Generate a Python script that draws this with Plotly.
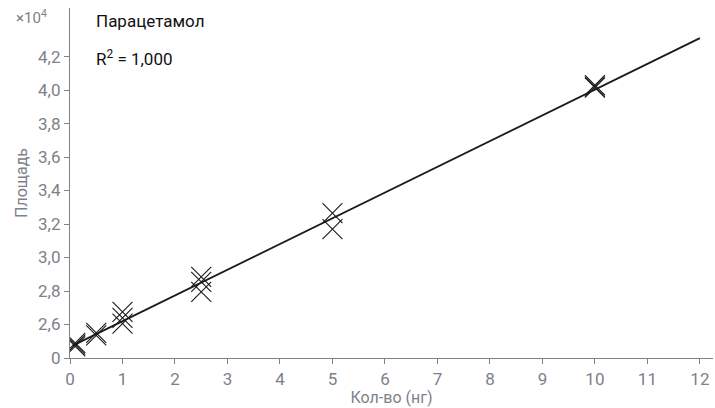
import numpy as np
import plotly.graph_objects as go

# Data (area in units of 1e4)
amount_ng = [0.1, 0.1, 0.1, 0.5, 0.5, 1, 1, 1, 2.5, 2.5, 2.5, 5, 5, 10, 10, 10]
area_e4 = [2.47, 2.48, 2.49, 2.535, 2.55, 2.675, 2.64, 2.605, 2.885, 2.855, 2.795,
           3.265, 3.17, 4.03, 4.02, 4.015]

fit_slope = 0.1537
fit_intercept = 2.466
fit_x = [0.05, 12]

y_tickvals = [2.4, 2.6, 2.8, 3.0, 3.2, 3.4, 3.6, 3.8, 4.0, 4.2]
y_ticktext = ["0", "2,6", "2,8", "3,0", "3,2", "3,4", "3,6", "3,8", "4,0", "4,2"]
x_tickvals = list(range(0, 13))

title_text = "Парацетамол"
r2_text = "R<sup>2</sup> = 1,000"

fit_y = [fit_intercept + fit_slope * v for v in fit_x]

grey = "#7d8189"
font = "Roboto, 'Noto Sans', sans-serif"
fs = 17

fig = go.Figure()
fig.add_trace(go.Scatter(
    x=fit_x, y=fit_y, mode="lines",
    line=dict(color="#1a1a1a", width=1.8), showlegend=False, hoverinfo="skip"))
fig.add_trace(go.Scatter(
    x=amount_ng, y=area_e4, mode="markers",
    marker=dict(symbol="x-thin", size=20, line=dict(color="#1a1a1a", width=1.1)),
    showlegend=False))

fig.update_layout(
    width=715, height=408,
    margin=dict(l=70, r=2, t=8, b=50),
    paper_bgcolor="white", plot_bgcolor="white",
    font=dict(family=font, size=fs, color=grey),
    xaxis=dict(range=[0, 12.25], tickvals=x_tickvals, ticks="outside", ticklen=5,
               tickcolor=grey, showline=True, linecolor=grey, linewidth=1.2,
               showgrid=False, zeroline=False, tickfont=dict(size=fs, color=grey),
               title=dict(text="Кол-во (нг)", font=dict(size=16, color=grey), standoff=4)),
    yaxis=dict(range=[2.4, 4.49], tickvals=y_tickvals, ticktext=y_ticktext,
               ticks="outside", ticklen=5, tickcolor=grey, showline=True,
               linecolor=grey, linewidth=1.2, showgrid=False, zeroline=False,
               tickfont=dict(size=fs, color=grey),
               title=dict(text="Площадь", font=dict(size=16, color=grey), standoff=6)),
    annotations=[
        dict(text="×10<sup>4</sup>", xref="paper", yref="paper", x=-0.087, y=0.975,
             xanchor="left", yanchor="middle", showarrow=False,
             font=dict(size=15, color=grey)),
        dict(text=title_text, xref="paper", yref="paper", x=0.037, y=0.962,
             xanchor="left", yanchor="middle", showarrow=False,
             font=dict(size=17, color="#111111")),
        dict(text=r2_text, xref="paper", yref="paper", x=0.037, y=0.857,
             xanchor="left", yanchor="middle", showarrow=False,
             font=dict(size=17, color="#111111")),
    ],
)

fig.write_html("out.html")
